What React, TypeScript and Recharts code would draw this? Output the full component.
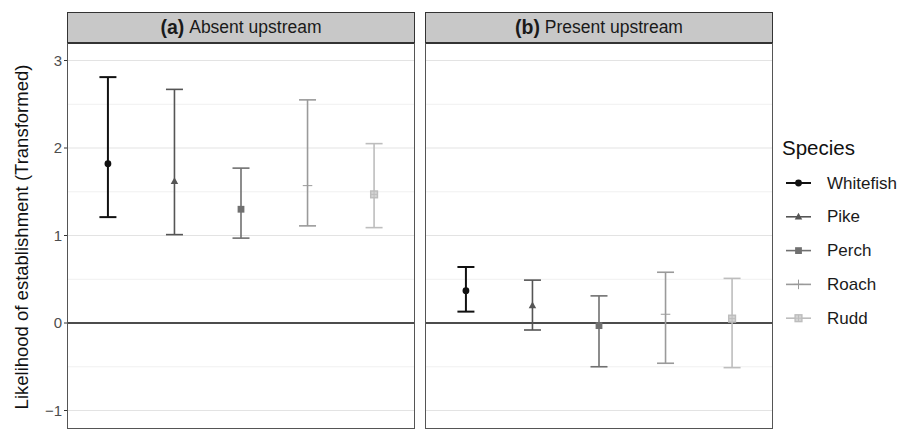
import { ComposedChart, Scatter, ErrorBar, XAxis, YAxis, ReferenceLine } from 'recharts'

const species = ['Whitefish', 'Pike', 'Perch', 'Roach', 'Rudd']
const colors = ['#111111', '#555555', '#707070', '#9a9a9a', '#bdbdbd']
const shapes = ['circle', 'triangle', 'square', 'plus', 'boxplus']

// panel (a) absent upstream
const absentMean = [1.82, 1.62, 1.3, 1.57, 1.47]
const absentLower = [1.21, 1.01, 0.97, 1.11, 1.09]
const absentUpper = [2.81, 2.67, 1.77, 2.55, 2.05]

// panel (b) present upstream
const presentMean = [0.37, 0.2, -0.03, 0.1, 0.05]
const presentLower = [0.13, -0.08, -0.5, -0.46, -0.51]
const presentUpper = [0.64, 0.49, 0.31, 0.58, 0.51]

const majorTicks = [-1, 0, 1, 2, 3]
const minorTicks = [-0.5, 0.5, 1.5, 2.5]

const FONT = '"Liberation Sans", Arial, sans-serif'

function Marker({ cx, cy, kind, color, size = 3.4 }: any) {
  if (cx == null || cy == null) return null
  const s = size
  if (kind === 'circle') return <circle cx={cx} cy={cy} r={s} fill={color} />
  if (kind === 'triangle')
    return <polygon points={`${cx},${cy - s * 1.2} ${cx - s * 1.1},${cy + s * 0.8} ${cx + s * 1.1},${cy + s * 0.8}`} fill={color} />
  if (kind === 'square') return <rect x={cx - s} y={cy - s} width={s * 2} height={s * 2} fill={color} />
  if (kind === 'plus')
    return (
      <g stroke={color} strokeWidth={1}>
        <line x1={cx - s * 1.4} y1={cy} x2={cx + s * 1.4} y2={cy} />
        <line x1={cx} y1={cy - s * 1.4} x2={cx} y2={cy + s * 1.4} />
      </g>
    )
  return (
    <g>
      <rect x={cx - s} y={cy - s} width={s * 2} height={s * 2} fill="#d4d4d4" stroke={color} strokeWidth={1.4} />
      <line x1={cx - s} y1={cy} x2={cx + s} y2={cy} stroke={color} strokeWidth={1} />
      <line x1={cx} y1={cy - s} x2={cx} y2={cy + s} stroke={color} strokeWidth={1} />
    </g>
  )
}

function buildSeries(mean: number[], lower: number[], upper: number[]) {
  return species.map((name, i) => ({
    name,
    data: [{ x: i + 1, y: mean[i], err: [mean[i] - lower[i], upper[i] - mean[i]] }],
  }))
}

function Panel({ mean, lower, upper, showAxis, width }: any) {
  const series = buildSeries(mean, lower, upper)
  return (
    <ComposedChart width={width} height={429} margin={{ top: 43, right: 0, bottom: 1, left: 0 }}>
      <XAxis type="number" dataKey="x" domain={[0.4, 5.6]} hide />
      <YAxis
        type="number"
        dataKey="y"
        domain={[-1.2, 3.2]}
        ticks={majorTicks}
        allowDataOverflow
        hide={!showAxis}
        width={68}
        axisLine={false}
        tickSize={4}
        tickLine={{ stroke: '#333333' }}
        tick={{ fill: '#4d4d4d', fontSize: 15, fontFamily: FONT }}
        tickFormatter={(v: number) => String(v).replace('-', '\u2212')}
        label={{
          content: () => (
            <text
              transform="translate(21,237) rotate(-90)"
              textAnchor="middle"
              dominantBaseline="central"
              fontSize={18.5}
              fontFamily={FONT}
              fill="#111111"
            >
              Likelihood of establishment (Transformed)
            </text>
          ),
        }}
      />
      {minorTicks.map((v) => (
        <ReferenceLine key={'mn' + v} y={v} stroke="#ececec" strokeWidth={0.8} />
      ))}
      {majorTicks
        .filter((v) => v !== 0)
        .map((v) => (
          <ReferenceLine key={'mj' + v} y={v} stroke="#e3e3e3" strokeWidth={1.2} />
        ))}
      <ReferenceLine y={0} stroke="#111111" strokeWidth={1.6} />
      {series.map((s, i) => (
        <Scatter
          key={s.name}
          name={s.name}
          data={s.data}
          isAnimationActive={false}
          shape={(p: any) => <Marker cx={p.cx} cy={p.cy} kind={shapes[i]} color={colors[i]} />}
        >
          <ErrorBar dataKey="err" direction="y" width={8.5} stroke={colors[i]} strokeWidth={i === 0 ? 2 : 1.6} />
        </Scatter>
      ))}
    </ComposedChart>
  )
}

function Strip({ left, width, tag, title }: any) {
  return (
    <div
      style={{
        position: 'absolute',
        left,
        top: 12,
        width,
        height: 32,
        boxSizing: 'border-box',
        background: '#c8c8c8',
        border: '1px solid #333333',
        borderBottomWidth: 2,
        fontFamily: FONT,
        fontSize: 17.5,
        color: '#1a1a1a',
        display: 'flex',
        alignItems: 'center',
        justifyContent: 'center',
      }}
    >
      <b style={{ fontSize: 19.5 }}>{tag}</b>&nbsp;{title}
    </div>
  )
}

function Frame({ left, width }: any) {
  return (
    <div
      style={{
        position: 'absolute',
        left,
        top: 43,
        width,
        height: 386,
        boxSizing: 'border-box',
        border: '1px solid #555555',
        borderTop: 'none',
        pointerEvents: 'none',
      }}
    />
  )
}

function Legend() {
  return (
    <svg style={{ position: 'absolute', left: 770, top: 125 }} width={129} height={210}>
      <text x={12} y={22} fontSize={20.5} fontFamily={FONT} fill="#111111" dominantBaseline="central">
        Species
      </text>
      {species.map((name, i) => {
        const y = 58 + i * 33.8
        return (
          <g key={name}>
            <line x1={16} y1={y} x2={41} y2={y} stroke={colors[i]} strokeWidth={i === 0 ? 2 : 1.6} />
            <Marker cx={28.5} cy={y} kind={shapes[i]} color={colors[i]} />
            <text x={57} y={y} fontSize={17} fontFamily={FONT} fill="#1a1a1a" dominantBaseline="central">
              {name}
            </text>
          </g>
        )
      })}
    </svg>
  )
}

export default function App() {
  return (
    <div style={{ position: 'absolute', left: 0, top: 0, width: 899, height: 429, background: '#ffffff', overflow: 'hidden' }}>
      <div style={{ position: 'absolute', left: 0, top: 0 }}>
        <Panel mean={absentMean} lower={absentLower} upper={absentUpper} showAxis width={414} />
      </div>
      <div style={{ position: 'absolute', left: 426, top: 0 }}>
        <Panel mean={presentMean} lower={presentLower} upper={presentUpper} showAxis={false} width={346} />
      </div>
      <Strip left={67} width={348} tag="(a)" title="Absent upstream" />
      <Strip left={425} width={348} tag="(b)" title="Present upstream" />
      <Frame left={67} width={348} />
      <Frame left={425} width={348} />
      <Legend />
    </div>
  )
}
